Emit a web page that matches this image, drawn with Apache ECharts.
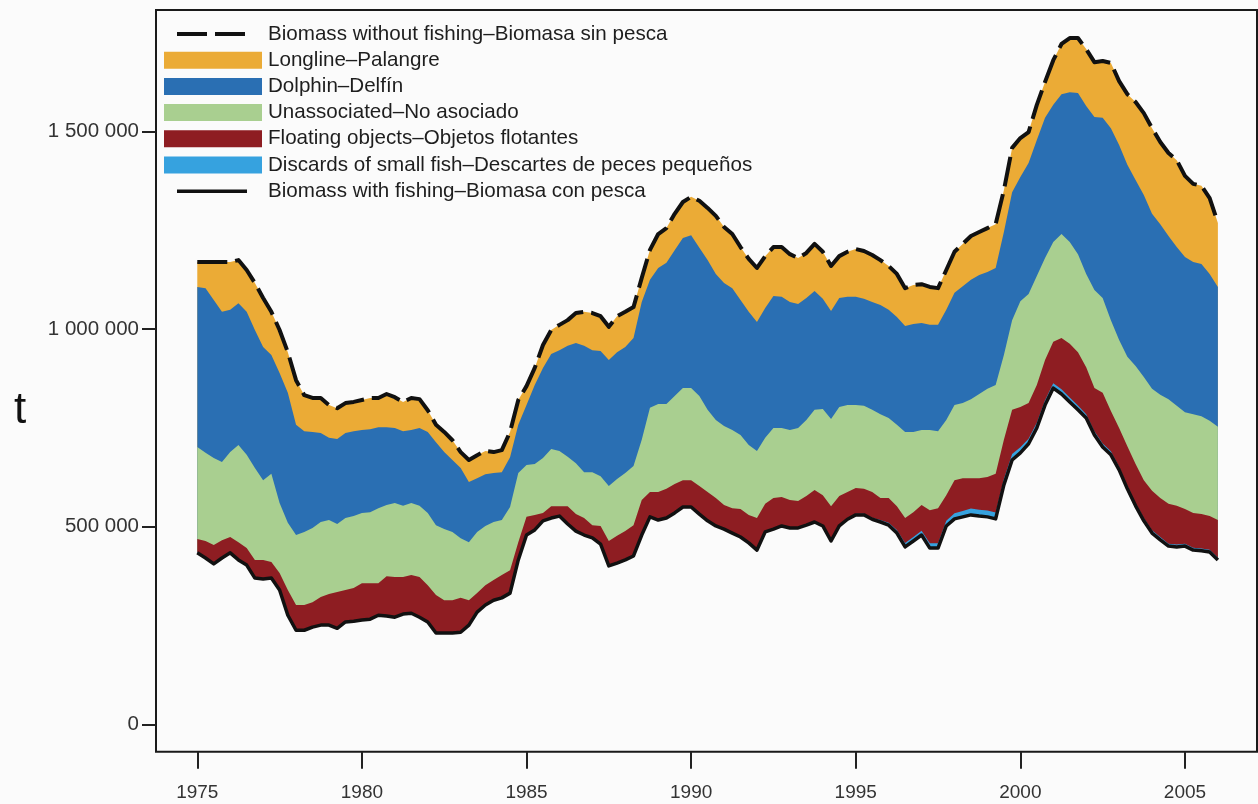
<!DOCTYPE html>
<html>
<head>
<meta charset="utf-8">
<title>Biomass with and without fishing</title>
<script src="https://cdn.jsdelivr.net/npm/echarts@6.0.0/dist/echarts.min.js"></script>
<style>
  html, body { margin: 0; padding: 0; background: #fbfbfb; }
  #chart { width: 1258px; height: 804px; }
</style>
</head>
<body>
<div id="chart"></div>
<script>
// Quarterly series, 1975.0 to 2006.0, values in thousands of tonnes.
const firstYear = 1975;
const stepsPerYear = 4;

// Biomass without fishing (top of the stack)
const biomassWithoutFishing = [
  1170,1170,1170,1170, 1170,1175,1150,1117, 1079,1044,998,942, 871,833,826,826,
  808,800,813,816, 821,826,826,836, 828,816,826,823, 795,758,740,719,
  689,669,681,692, 689,694,740,821, 856,902,960,998, 1011,1023,1041,1044,
  1041,1033,1006,1033, 1044,1056,1130,1201, 1241,1256,1292,1322, 1335,1325,1307,1287,
  1259,1241,1208,1178, 1155,1185,1208,1208, 1190,1180,1193,1216, 1196,1160,1185,1196,
  1203,1198,1188,1175, 1160,1140,1104,1112, 1114,1107,1104,1150, 1196,1216,1236,1246,
  1256,1266,1352,1459, 1484,1499,1568,1626, 1681,1722,1737,1737, 1709,1676,1679,1674,
  1628,1595,1575,1547, 1509,1474,1446,1428, 1388,1368,1363,1332, 1269
];

// Upper edge of the dolphin-set layer
const topDolphin = [
  1107,1104,1074,1044, 1049,1066,1044,998, 955,935,889,839, 758,742,740,737,
  725,722,737,742, 745,747,752,752, 750,742,745,750, 740,714,689,669,
  649,613,623,633, 636,638,676,758, 808,859,902,937, 947,958,965,958,
  947,945,922,942, 955,978,1069,1125, 1155,1168,1200,1231, 1238,1206,1175,1140,
  1117,1104,1074,1044, 1018,1054,1084,1082, 1069,1064,1079,1097, 1077,1046,1079,1082,
  1082,1077,1069,1061, 1049,1031,1008,1013, 1016,1011,1011,1049, 1092,1109,1125,1137,
  1145,1155,1246,1347, 1385,1421,1479,1535, 1568,1595,1600,1598, 1565,1537,1535,1509,
  1466,1416,1378,1340, 1292,1266,1236,1208, 1183,1170,1165,1140, 1107
];

// Upper edge of the unassociated-set layer
const topUnassociated = [
  702,687,674,664, 689,707,682,649, 618,634,560,510, 479,487,497,512,
  517,507,522,527, 535,537,547,555, 560,553,560,553, 535,504,494,487,
  471,461,487,502, 512,517,550,636, 656,659,674,697, 692,677,661,638,
  638,628,603,621, 636,654,720,801, 811,811,831,851, 851,831,796,770,
  755,745,732,707, 692,725,750,750, 745,750,770,796, 798,773,803,808,
  808,806,796,785, 775,758,740,740, 745,745,742,770, 808,813,823,836,
  849,859,935,1023, 1071,1089,1135,1180, 1221,1241,1221,1190, 1140,1099,1079,1023,
  973,930,907,879, 849,834,823,806, 790,785,780,768, 753
];

// Upper edge of the floating-object layer
const topFloating = [
  469,464,454,466, 474,461,446,416, 416,411,383,340, 302,302,309,322,
  330,335,340,345, 357,357,357,375, 373,373,378,373, 352,327,314,314,
  320,314,332,352, 365,378,390,461, 525,530,535,552, 552,552,532,522,
  504,502,464,477, 489,504,568,588, 588,596,608,618, 618,603,588,573,
  555,547,545,530, 522,558,573,575, 568,565,578,593, 580,552,578,588,
  598,596,588,573, 573,552,522,537, 555,542,547,580, 618,623,623,623,
  626,634,720,796, 803,813,859,922, 968,978,963,942, 904,851,839,793,
  750,704,659,618, 591,573,558,553, 545,535,532,527, 517
];

// Discards of small fish (layer thickness above the with-fishing biomass)
const discards = [
  2,2,2,2, 2,2,2,2, 2,2,2,2, 2,2,2,2,
  2,2,2,2, 2,2,2,2, 2,2,2,2, 2,2,2,2,
  2,2,2,2, 2,2,2,2, 2,2,2,2, 2,2,2,2,
  2,2,2,2, 2,2,2,2, 2,2,2,2, 2,2,2,2,
  2,2,2,2, 2,2,2,2, 2,2,2,2, 2,2,2,2,
  3,3,4,5, 6,8,10,10, 11,12,12,13, 14,15,16,16,
  16,16,15,15, 14,13,13,12, 12,12,11,11, 10,10,9,9,
  8,8,7,7, 7,7,6,6, 6,6,6,6, 6
];

// Biomass with fishing (bottom of the stack)
const biomassWithFishing = [
  434,421,406,421, 434,416,403,370, 368,370,340,276, 238,238,246,251,
  251,243,259,261, 264,266,276,274, 271,279,281,271, 259,231,231,231,
  233,251,284,302, 314,320,332,416, 479,492,515,522, 527,507,489,479,
  472,456,401,408, 416,426,479,525, 517,522,535,550, 550,532,515,502,
  494,484,474,459, 441,487,494,502, 497,497,504,512, 502,464,502,519,
  530,530,519,512, 504,484,449,464, 479,446,446,502, 520,525,530,527,
  525,520,606,669, 687,710,750,808, 851,836,816,796, 775,732,702,682,
  644,596,553,515, 484,467,451,449, 451,441,439,436, 416
];

const yearTicks = [1975, 1980, 1985, 1990, 1995, 2000, 2005];
const biomassTicks = [0, 500000, 1000000, 1500000];

const COLORS = {
  longline: '#ebab36',
  dolphin: '#2a6fb3',
  unassociated: '#a9cf90',
  floating: '#8e1d22',
  discards: '#36a2df',
  line: '#111111',
  paper: '#fbfbfb'
};

const LABELS = {
  without: 'Biomass without fishing\u2013Biomasa sin pesca',
  longline: 'Longline\u2013Palangre',
  dolphin: 'Dolphin\u2013Delf\u00edn',
  unassociated: 'Unassociated\u2013No asociado',
  floating: 'Floating objects\u2013Objetos flotantes',
  discards: 'Discards of small fish\u2013Descartes de peces peque\u00f1os',
  withF: 'Biomass with fishing\u2013Biomasa con pesca'
};

// Upper edge of the discards band
const topDiscards = biomassWithFishing.map((v, i) => v + discards[i]);

const timeAt = i => firstYear + i / stepsPerYear;
const toPairs = arr => arr.map((v, i) => [timeAt(i), v * 1000]);

// Each band is a polygon from its upper edge down to the with-fishing
// biomass; bands are painted top layer first so each lower band covers
// the part of the previous one that lies beneath its own upper edge.
const band = (name, upperEdge, color) => ({
  name: name,
  type: 'custom',
  coordinateSystem: 'cartesian2d',
  silent: true,
  z: 2,
  data: [[firstYear, 0]],
  renderItem: (params, api) => {
    const points = [];
    upperEdge.forEach((v, i) => points.push(api.coord([timeAt(i), v * 1000])));
    for (let i = biomassWithFishing.length - 1; i >= 0; i--) {
      points.push(api.coord([timeAt(i), biomassWithFishing[i] * 1000]));
    }
    return {
      type: 'polygon',
      shape: { points: points },
      style: { fill: color, stroke: null }
    };
  }
});

const spaced = v => String(v).replace(/\B(?=(\d{3})+(?!\d))/g, ' ');

// Legend drawn inside the plot frame
const legendTop = 34, legendStep = 26.2;
const legendFont = '20.6px "Liberation Sans", Arial, sans-serif';
const legendRows = [
  { label: LABELS.without, kind: 'dash' },
  { label: LABELS.longline, color: COLORS.longline },
  { label: LABELS.dolphin, color: COLORS.dolphin },
  { label: LABELS.unassociated, color: COLORS.unassociated },
  { label: LABELS.floating, color: COLORS.floating },
  { label: LABELS.discards, color: COLORS.discards },
  { label: LABELS.withF, kind: 'solid' }
];
const overlay = [];
legendRows.forEach((row, i) => {
  const y = legendTop + i * legendStep;
  if (row.kind === 'dash' || row.kind === 'solid') {
    overlay.push({
      type: 'line',
      shape: { x1: 177, y1: y, x2: 247, y2: y },
      style: {
        stroke: COLORS.line,
        lineWidth: row.kind === 'dash' ? 4 : 3.5,
        lineDash: row.kind === 'dash' ? [30, 8] : null
      },
      z: 10
    });
  } else {
    overlay.push({
      type: 'rect',
      shape: { x: 164, y: y - 8.5, width: 98, height: 17 },
      style: { fill: row.color },
      z: 10
    });
  }
  overlay.push({
    type: 'text',
    x: 268,
    y: y,
    style: { text: row.label, font: legendFont, fill: '#1e1e1e', verticalAlign: 'middle' },
    z: 10
  });
});

// Unit of the vertical axis
overlay.push({
  type: 'text',
  x: 20,
  y: 411,
  style: {
    text: 't',
    font: '44px "Liberation Sans", Arial, sans-serif',
    fill: '#111',
    align: 'center',
    verticalAlign: 'middle'
  },
  z: 10
});

const chart = echarts.init(document.getElementById('chart'), null, { renderer: 'canvas' });
chart.setOption({
  animation: false,
  backgroundColor: COLORS.paper,
  textStyle: { fontFamily: '"Liberation Sans", Arial, sans-serif' },
  grid: {
    left: 156, top: 10, width: 1101, height: 741.7,
    show: true, borderColor: '#1a1a1a', borderWidth: 2,
    backgroundColor: 'transparent'
  },
  xAxis: {
    type: 'value',
    min: 1973.746,
    max: 2007.188,
    axisLine: { show: false, onZero: false },
    splitLine: { show: false },
    axisTick: { show: true, length: 17, lineStyle: { color: '#222', width: 2 }, customValues: yearTicks },
    axisLabel: {
      customValues: yearTicks, fontSize: 19, color: '#333', margin: 32, lineHeight: 19,
      formatter: v => String(v)
    }
  },
  yAxis: {
    type: 'value',
    min: -69400,
    max: 1808000,
    axisLine: { show: false, onZero: false },
    splitLine: { show: false },
    axisTick: { show: true, length: 14, lineStyle: { color: '#222', width: 2 }, customValues: biomassTicks },
    axisLabel: {
      customValues: biomassTicks, fontSize: 20.5, color: '#333', margin: 17,
      formatter: v => spaced(v)
    }
  },
  graphic: overlay,
  series: [
    band(LABELS.longline, biomassWithoutFishing, COLORS.longline),
    band(LABELS.dolphin, topDolphin, COLORS.dolphin),
    band(LABELS.unassociated, topUnassociated, COLORS.unassociated),
    band(LABELS.floating, topFloating, COLORS.floating),
    band(LABELS.discards, topDiscards, COLORS.discards),
    {
      name: LABELS.withF,
      type: 'line',
      data: toPairs(biomassWithFishing),
      symbol: 'none',
      silent: true,
      z: 4,
      lineStyle: { color: COLORS.line, width: 3.5, join: 'round' }
    },
    {
      name: LABELS.without,
      type: 'line',
      data: toPairs(biomassWithoutFishing),
      symbol: 'none',
      silent: true,
      z: 5,
      lineStyle: { color: COLORS.line, width: 4, type: [30, 8], cap: 'butt', join: 'round' }
    }
  ]
});
</script>
</body>
</html>
